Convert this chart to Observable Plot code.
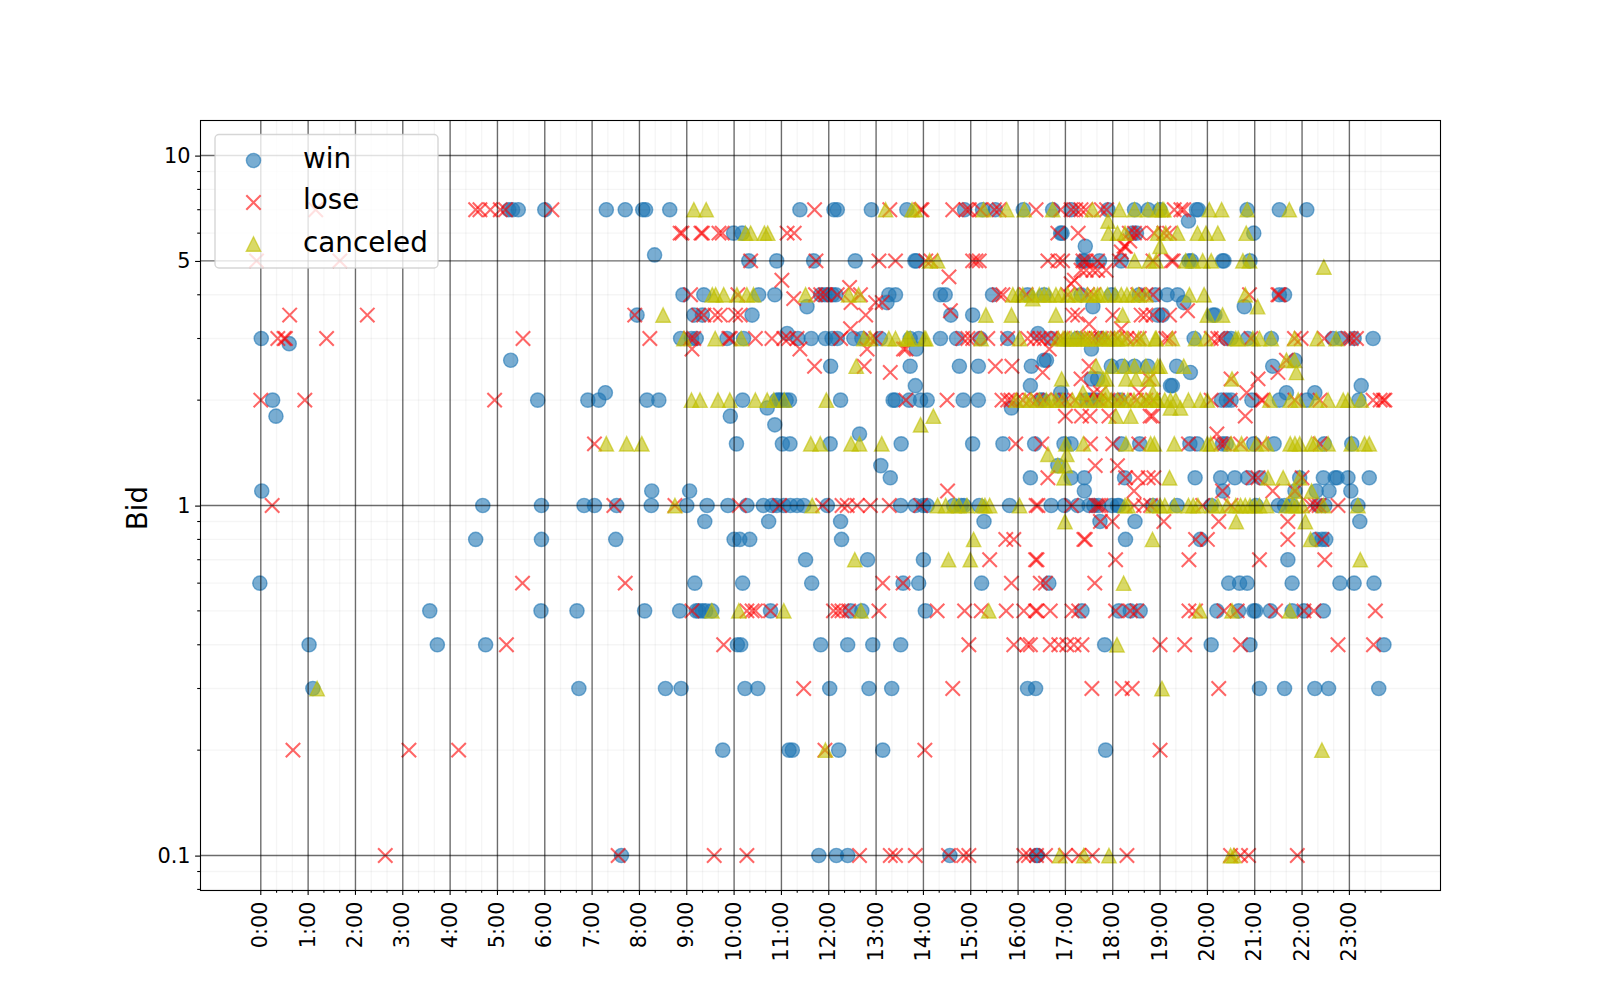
<!DOCTYPE html>
<html>
<head>
<meta charset="utf-8">
<script src="https://cdn.jsdelivr.net/npm/d3@7"></script>
<script src="https://cdn.jsdelivr.net/npm/@observablehq/plot@0.6"></script>
<style>
html,body{margin:0;padding:0;background:#fff;}
#wrap{position:relative;width:1600px;height:1000px;overflow:hidden;}
#legend{position:absolute;left:0;top:0;}
</style>
</head>
<body>
<div id="wrap"></div>
<script>
const hourTicks = d3.range(0, 24);
const minorHourTicks = hourTicks.flatMap(h => [h + 1/3, h + 2/3]);
const bidTicks = [0.1, 1, 5, 10];
const minorBidTicks = [0.08, 0.09, 0.2, 0.3, 0.4, 0.5, 0.6, 0.7, 0.8, 0.9, 2, 3, 4, 6, 7, 8, 9];

const winBids = [7, 6.5, 6, 5.5, 5.2, 5, 4, 3.8, 3.7, 3.5, 3.1, 3, 2.9, 2.8, 2.6, 2.5, 2.4, 2.3, 2.2, 2.1, 2, 1.9, 1.8, 1.7, 1.6, 1.5, 1.3, 1.2, 1.1, 1, 0.9, 0.8, 0.7, 0.6, 0.5, 0.4, 0.3, 0.2, 0.1];
const winHours = [
  [5.24,5.32,5.44,6.0,7.3,7.7,8.07,8.13,8.64,11.39,12.11,12.18,12.9,13.65,14.87,15.25,15.52,16.11,16.73,17.12,17.9,18.46,18.75,19,19.77,19.81,20.84,21.52,22.1],
  [19.6],
  [9.99,10.17,16.9,16.93,18.42,18.5,20.98],
  [17.42],
  [8.32],
  [10.31,10.9,11.68,12.56,13.82,13.85,17.37,17.4,17.72,18.18,19.61,19.66,20.32,20.35,20.9],
  [8.92,9.36,10.52,10.86,11.83,11.92,12.0,12.08,12.15,13.27,13.41,14.36,14.46,15.46,16.2,16.55,17.33,17.97,18.56,18.9,19.15,19.37,21.52,21.63],
  [13.23,19.5],
  [17.58,20.78,11.54],
  [7.95,9.15,9.33,10.38,14.58,15.04,18.95,19.05,20.12,20.16],
  [11.12,16.42],
  [0.01,8.87,9.1,9.2,9.85,10.2,11.35,11.63,11.93,12.07,12.18,12.53,12.7,13.09,13.72,13.9,14.36,14.7,15.2,15.78,16.7,17.25,17.75,19.72,20.4,20.5,20.85,21.35,22.65,22.82,23.1,23.5],
  [0.6],
  [13.85,17.55],
  [5.28,16.55,21.85,16.6],
  [12.04,13.72,14.76,15.16,16.28,17.97,18.2,18.46,18.74,19.35,21.38],
  [19.64],
  [17.55,17.68],
  [13.83,16.26,19.22,19.26,23.25],
  [7.28,16.9,21.67,22.27],
  [0.25,5.85,6.91,7.14,8.16,8.41,10.18,10.9,10.95,11.0,11.1,11.17,12.25,13.36,13.4,13.7,13.94,14.08,14.84,15.16,16.48,16.52,16.9,17.45,17.55,17.65,18.15,20.3,20.4,20.5,20.94,21.52,22.1,23.2],
  [10.7,15.86],
  [0.32,9.92],
  [10.86],
  [12.65],
  [10.05,11.02,11.18,12.03,13.53,15.04,15.68,16.35,16.97,17.12,18.18,18.57,19.63,19.78,20.32,20.4,20.98,21.41,22.47,23.05],
  [13.1,16.84],
  [13.3,16.26,17.12,17.4,18.25,19.74,20.28,20.58,20.85,21.12,21.95,22.45,22.7,22.74,22.97,23.42],
  [0.02,8.26,9.06,17.4,20.33,21.85,22.3,22.57,23.03],
  [4.69,5.93,6.83,7.05,7.52,8.25,9,9.43,9.87,10.27,10.62,10.8,10.9,11.05,11.19,11.33,11.47,11.97,13.52,13.83,14.0,14.08,14.64,14.8,14.86,15.18,15.82,16.7,16.98,17.26,17.5,17.6,17.7,17.98,18.1,18.13,18.85,19.36,20.08,21.03,21.5,21.63,21.78,22.34,22.48,23.18],
  [9.38,10.73,12.25,15.28,17.73,18.47,23.22],
  [4.54,5.93,7.5,10,10.12,10.33,12.27,18.27,19.85,22.3,22.42,22.5],
  [11.51,12.82,14.0,21.7],
  [-0.02,9.17,10.18,11.64,13.57,13.9,15.23,16.65,20.45,20.68,20.84,21.79,22.8,23.1,23.52],
  [3.57,5.92,6.68,8.11,8.85,9.2,9.25,9.33,9.4,9.53,10.77,12.46,12.7,14.04,17.35,18.13,18.37,18.58,20.2,20.66,20.98,21.02,21.33,21.79,22.04,22.45],
  [1.02,3.73,4.75,10.07,10.14,11.83,12.4,12.93,13.52,17.83,20.08,20.9,23.73],
  [1.1,6.72,8.55,8.88,10.23,10.5,12.02,12.85,13.33,16.2,16.37,21.1,21.63,22.27,22.56,23.62],
  [9.76,11.16,11.23,12.21,13.14,17.85],
  [7.62,11.79,12.16,12.4,14.56,16.39,16.41]
];

const loseBids = [7, 6, 5.7, 5.5, 5.3, 5, 4.7, 4.5, 4.4, 4.3, 4.2, 4, 3.9, 3.8, 3.6, 3.5, 3.3, 3.2, 3, 2.8, 2.6, 2.5, 2.4, 2.3, 2.1, 2, 1.8, 1.6, 1.5, 1.3, 1.2, 1.1, 1, 0.9, 0.8, 0.7, 0.6, 0.5, 0.4, 0.3, 0.2, 0.1];
const loseHours = [
  [1.16,4.54,4.63,4.85,5.06,5.17,6.15,11.7,13.29,13.94,13.97,14.62,14.9,14.97,15.2,15.5,15.6,16.38,16.9,17.12,17.22,17.33,17.43,17.76,17.87,19.3,19.44,19.5],
  [8.86,8.9,9.3,9.33,9.68,9.75,11.12,11.27,16.84,17.27,18.35,18.46,18.56,18.87,19.08,19.2],
  [18.36],
  [18.24,18.27],
  [18.18],
  [-0.09,1.67,10.35,11.73,13.06,13.41,14.05,14.16,15.04,15.11,15.18,16.63,16.84,16.94,17.37,17.44,17.68,18.14,18.85,19.24,19.28],
  [17.33,17.44,17.58,17.68,17.86],
  [14.54],
  [11.01,17.19],
  [17.12],
  [12.44],
  [9.08,10.08,11.72,11.83,11.93,12.18,12.67,15.6,15.68,16.17,17.05,17.47,17.6,18.53,18.7,18.85,20.89,21.49,21.52],
  [11.26],
  [12.99,13.13,12.47],
  [14.57,19.58],
  [0.61,2.25,7.9,9.25,9.36,9.6,9.71,10.03,10.13,12.78,17.15,17.26,18,18.6,18.7,18.85,19.2],
  [17.5],
  [12.46,18.18],
  [0.36,0.49,0.52,1.39,5.54,8.22,9.08,9.15,9.89,9.92,10.45,10.8,11.05,11.15,11.33,12.25,12.88,12.99,14.83,14.94,15.04,15.36,15.78,16.2,16.34,16.45,16.55,16.7,16.85,16.95,17.37,17.47,17.55,17.65,17.76,17.9,18.1,18.3,18.46,18.56,19.12,19.19,20.08,20.22,20.29,20.92,21.84,21.98,22.47,22.97,23.04,23.15],
  [9.11,11.39,12.81,13.58,13.63,16.66],
  [21.67],
  [11.7,12.75,15.52,15.87,17.5],
  [13.3,16.52,21.49],
  [17.33,20.5,21.07,18.77],
  [17.6,17.74,18.56,20.83],
  [0,0.93,4.94,13.63,14.5,15.66,15.78,15.85,15.95,16.1,16.25,16.4,16.55,16.85,17,17.2,17.45,17.7,17.9,18.1,18.25,18.5,18.7,18.85,20.08,20.48,21.14,21.17,21.85,22.38,23.5,23.65,23.72,23.75],
  [17,17.34,17.52,17.92,18.79,20.8,18.84],
  [20.2],
  [7.05,15.95,16.5,17.53,18,18.55,19.6,20.28,20.36,20.7,21.15,22.38],
  [17.63,18.1],
  [16.63,18.27,18.53,18.75,18.87,20.96,21.07,22],
  [14.51,18.45,20.32,21.38,21.85],
  [0.24,7.46,8.75,10.11,10.96,11.87,12.28,12.39,12.6,12.88,13.28,13.94,16.38,16.42,17.13,17.65,17.7,17.75,18.45,18.65,18.8,19.9,20.5,22.18,22.28,22.36,22.76],
  [17.74,17.99,19.08,20.24,21.7],
  [15.74,15.91,17.39,17.42,19.75,20,21.7,22.42],
  [15.4,16.37,16.4,18.06,19.61,21.1,22.48],
  [5.53,7.7,13.14,13.57,15.86,16.47,16.58,17.62],
  [9.11,10.27,10.38,10.45,10.77,12.1,12.2,12.28,12.42,13.06,14.29,14.87,15.22,15.75,16.12,16.37,16.4,16.68,17.14,17.28,18.06,18.37,18.51,19.61,19.75,20.35,20.63,21.44,22.04,22.25,23.55],
  [5.19,9.78,14.96,15.91,16.19,16.26,16.68,16.86,17.03,17.18,17.35,19,19.52,20.7,22.76,23.51],
  [11.47,14.62,17.56,18.2,18.41,20.24],
  [0.68,3.13,4.18,11.92,14.03,19],
  [2.63,7.55,9.58,10.27,12.65,13.3,13.41,13.83,14.53,14.85,14.96,16.12,16.22,16.39,16.58,17,17.28,17.57,18.3,20.49,20.7,20.87,21.9]
];

const canceledBids = [7, 6.5, 6, 5.5, 5, 4.8, 4, 3.9, 3.7, 3.5, 3, 2.6, 2.5, 2.4, 2.3, 2.1, 2, 1.9, 1.8, 1.7, 1.5, 1.4, 1.3, 1.2, 1.1, 1, 0.9, 0.8, 0.7, 0.6, 0.5, 0.4, 0.3, 0.2, 0.1];
const canceledHours = [
  [9.15,9.41,13.2,13.76,13.83,15.27,15.76,16.13,16.73,17.57,18.14,18.46,18.74,18.95,19.05,19.08,20.04,20.3,20.84,21.73],
  [17.9],
  [10.24,10.35,10.64,10.71,17.91,18.1,18.26,18.95,19.12,19.37,19.79,19.97,20.22,20.82],
  [19],
  [14.13,14.3,18.46,18.77,18.92,19.54,19.69,19.9,20.08,20.75,20.89],
  [22.46],
  [9.54,9.61,9.78,10.06,10.27,10.41,11.51,12.42,12.63,15.89,16.0,16.1,16.3,16.45,16.55,16.65,16.8,16.9,17.05,17.19,17.3,17.47,17.6,17.68,17.75,17.89,18.05,18.18,18.3,18.42,18.55,18.7,19.62,19.93,20.8],
  [16.31],
  [21.06],
  [8.5,15.32,15.86,16.8,18.21,20,20.32],
  [8.94,9.6,10.15,12.74,12.88,13.27,13.41,13.65,13.72,14.05,13.67,14.02,15.22,16.03,16.85,16.95,17,17.05,17.12,17.2,17.26,17.33,17.4,17.47,17.55,17.7,17.8,17.86,17.95,18.04,18.1,18.18,18.3,18.55,18.65,18.92,18.9,19.26,19.75,19.97,20.6,20.65,20.96,21.1,21.35,21.84,22.32,22.72],
  [21.67,21.84],
  [12.58,17.65,17.98,18.25,18.46,18.7,18.95,19,19.5],
  [21.88],
  [16.92,17.8,17.87,18.28,18.49,18.74,20.52,18.85],
  [17.37,17.85,18.85],
  [9.1,9.28,9.66,9.91,10.45,10.7,10.84,11.06,11.95,15.96,16.15,16.28,16.45,16.6,16.7,16.8,16.95,17.15,17.3,17.45,17.6,17.75,17.85,17.97,18.1,18.2,18.32,18.45,18.6,18.7,18.8,18.94,18.95,19.1,19.22,19.33,19.6,19.85,20,21.32,21.75,21.92,22.3,22.55,22.87,22.97,23.25],
  [19.22,19.43],
  [18.07,18.38,14.21],
  [13.94],
  [7.3,7.73,8.05,11.62,11.82,12.47,12.65,13.12,17.01,17.38,18.28,18.88,18.8,19.3,20,20.07,20.5,20.72,21.03,21.25,21.75,21.85,21.95,22.2,22.27,22.55,23.04,23.32,23.42],
  [16.63,17.03],
  [16.84,17],
  [16.97,19.2,21.28,21.6,21.95],
  [21.85,22.2],
  [8.75,11.65,14.3,14.47,14.65,14.75,14.92,15.24,15.3,15.4,16.03,18.26,18.32,18.85,19,19.1,19.3,19.6,19.7,19.8,20.1,20.22,20.42,20.6,20.7,20.8,20.9,21,21.1,21.25,21.67,21.8,21.88,22,22.45,23.18],
  [16.99,20.61,22.07],
  [15.06,18.84,22.18],
  [12.55,14.53,14.99,23.23],
  [18.23],
  [9.53,10.1,11.05,12.68,15.38,19.84,20.52,21.74],
  [18.09],
  [1.19,19.04],
  [11.93,22.42],
  [16.88,17.39,17.92,20.49,20.56]
];

const toRows = (bids, hours) => bids.flatMap((bid, i) => hours[i].map(hour => ({hour, bid})));

const xSymbol = {draw(c, size) {
  const h = Math.sqrt(size / Math.PI);
  c.moveTo(-h, -h); c.lineTo(h, h); c.moveTo(-h, h); c.lineTo(h, -h);
}};
const triSymbol = {draw(c, size) {
  const h = Math.sqrt(size / Math.PI);
  c.moveTo(0, -h); c.lineTo(h, h); c.lineTo(-h, h); c.closePath();
}};

const BLUE = "#1f77b4", RED = "#ff0000", YEL = "#bfbf00";
const R_DOT = 7.1, R_X = 7.2, R_TRI = 7.2, SW_DOT = 1.4, SW_X = 2.08, SW_TRI = 1.4, ALPHA = 0.6;
const TICK_FONT = 20.83;

const chart = Plot.plot({
  width: 1600,
  height: 1000,
  marginLeft: 200,
  marginRight: 160,
  marginTop: 120,
  marginBottom: 110,
  style: {fontFamily: "'DejaVu Sans'", fontSize: TICK_FONT + "px", color: "#000", background: "#fff"},
  x: {type: "linear", domain: [-1.274, 24.925]},
  y: {type: "log", domain: [Math.pow(10, -1.1), Math.pow(10, 1.1)]},
  marks: [
    Plot.dot(toRows(winBids, winHours), {x: "hour", y: "bid", r: R_DOT, strokeWidth: SW_DOT, fill: BLUE, fillOpacity: ALPHA, stroke: BLUE, strokeOpacity: ALPHA}),
    Plot.dot(toRows(loseBids, loseHours), {x: "hour", y: "bid", r: R_X, strokeWidth: SW_X, symbol: xSymbol, fill: "none", stroke: RED, strokeOpacity: ALPHA}),
    Plot.dot(toRows(canceledBids, canceledHours), {x: "hour", y: "bid", r: R_TRI, strokeWidth: SW_TRI, symbol: triSymbol, fill: YEL, fillOpacity: ALPHA, stroke: YEL, strokeOpacity: ALPHA, strokeLinejoin: "miter"}),
    Plot.gridX(minorHourTicks, {stroke: "#000", strokeOpacity: 0.04, strokeWidth: 1.39}),
    Plot.gridY(minorBidTicks, {stroke: "#000", strokeOpacity: 0.04, strokeWidth: 1.39}),
    Plot.gridX(hourTicks, {stroke: "#000", strokeOpacity: 0.58, strokeWidth: 1.39}),
    Plot.gridY(bidTicks, {stroke: "#000", strokeOpacity: 0.58, strokeWidth: 1.39}),
    Plot.axisX(minorHourTicks, {tickSize: 2.8, tickFormat: () => "", strokeWidth: 1.1, stroke: "#000", label: null}),
    Plot.axisY(minorBidTicks, {tickSize: 2.8, tickFormat: () => "", strokeWidth: 1.1, stroke: "#000", label: null}),
    Plot.axisX(hourTicks, {tickSize: 4.9, tickPadding: 6, tickRotate: -90, tickFormat: h => `${h}:00`, strokeWidth: 1.1, stroke: "#000", fill: "#000", label: null, fontSize: TICK_FONT}),
    Plot.axisY(bidTicks, {tickSize: 4.9, tickPadding: 5, tickFormat: d => String(d), strokeWidth: 1.1, stroke: "#000", fill: "#000", label: null, fontSize: TICK_FONT, dy: 0.6}),
    Plot.text(["Bid"], {frameAnchor: "left", textAnchor: "middle", dx: -62, dy: 2.5, rotate: -90, fontSize: 27.8, fill: "#000", fontFamily: "'DejaVu Sans'"}),
    Plot.frame({stroke: "#000", strokeWidth: 1.1})
  ]
});

const wrap = document.getElementById("wrap");
wrap.appendChild(chart);

// legend overlay
const legend = d3.select(wrap).append("svg").attr("id", "legend").attr("width", 1600).attr("height", 1000)
  .style("pointer-events", "none");
legend.append("rect").attr("x", 215).attr("y", 134.5).attr("width", 223).attr("height", 133.5).attr("rx", 4)
  .attr("fill", "#fff").attr("fill-opacity", 0.8).attr("stroke", "#ccc").attr("stroke-opacity", 0.8).attr("stroke-width", 1.4);
const items = [
  {label: "win", cy: 160.5, base: 167.7},
  {label: "lose", cy: 202.5, base: 209},
  {label: "canceled", cy: 244, base: 252}
];
items.forEach((it, i) => {
  const cx = 253.5;
  if (i === 0) legend.append("circle").attr("cx", cx).attr("cy", it.cy).attr("r", R_DOT)
    .attr("fill", BLUE).attr("fill-opacity", ALPHA).attr("stroke", BLUE).attr("stroke-opacity", ALPHA).attr("stroke-width", SW_DOT);
  if (i === 1) { const h = R_X; legend.append("path").attr("d", `M${cx-h},${it.cy-h}L${cx+h},${it.cy+h}M${cx-h},${it.cy+h}L${cx+h},${it.cy-h}`)
    .attr("fill", "none").attr("stroke", RED).attr("stroke-opacity", ALPHA).attr("stroke-width", SW_X); }
  if (i === 2) { const h = R_TRI; legend.append("path").attr("d", `M${cx},${it.cy-h}L${cx+h},${it.cy+h}L${cx-h},${it.cy+h}Z`)
    .attr("fill", YEL).attr("fill-opacity", ALPHA).attr("stroke", YEL).attr("stroke-opacity", ALPHA).attr("stroke-width", SW_TRI); }
  legend.append("text").attr("x", 303).attr("y", it.base).text(it.label)
    .attr("font-family", "'DejaVu Sans'").attr("font-size", 27.8).attr("fill", "#000");
});
</script>
</body>
</html>
